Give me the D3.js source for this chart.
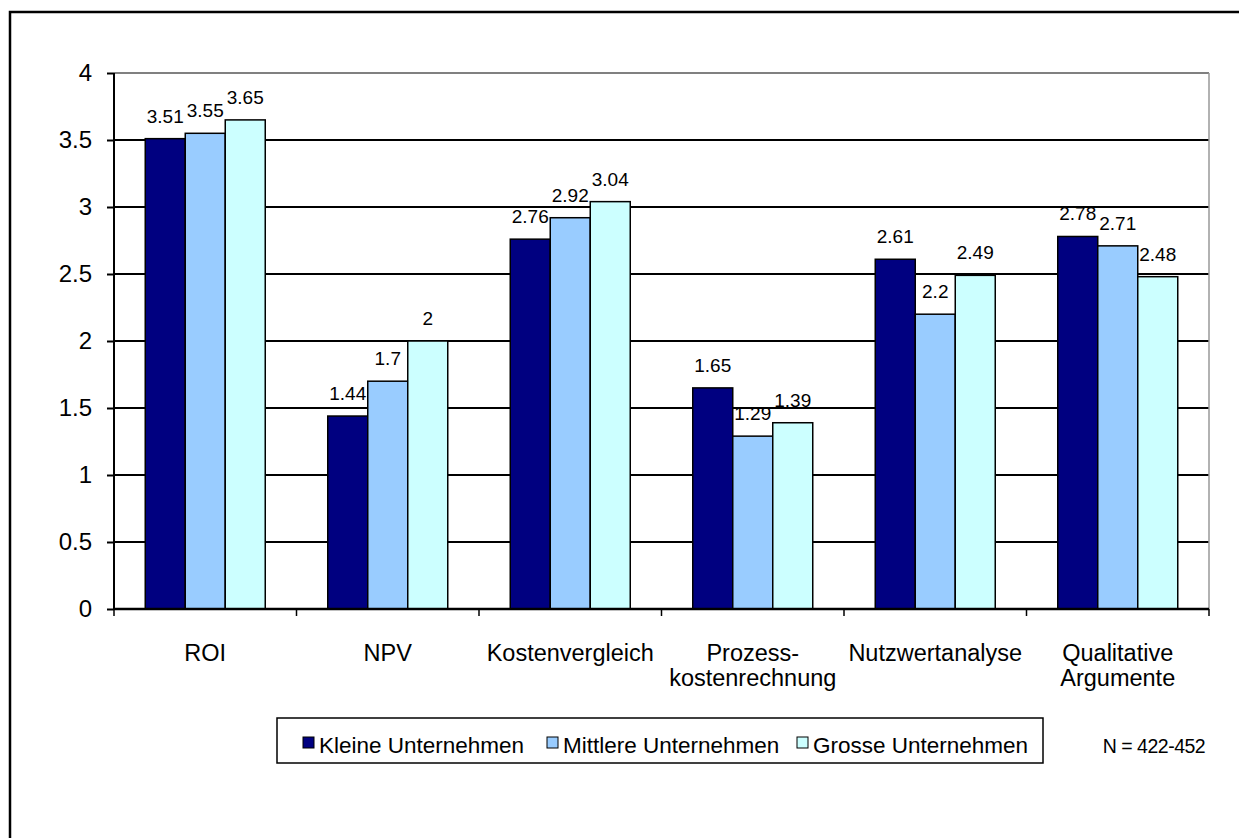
<!DOCTYPE html>
<html>
<head>
<meta charset="utf-8">
<script src="https://cdn.jsdelivr.net/npm/d3@7"></script>
<style>
  html, body { margin: 0; padding: 0; background: #fff; }
  svg { display: block; font-family: "Liberation Sans", Arial, sans-serif; }
</style>
</head>
<body>
<svg id="chart" width="1239" height="838"></svg>
<script>
// Methods and company-size groups
const categories = [["ROI"], ["NPV"], ["Kostenvergleich"], ["Prozess-", "kostenrechnung"], ["Nutzwertanalyse"], ["Qualitative", "Argumente"]];
const seriesNames = ["Kleine Unternehmen", "Mittlere Unternehmen", "Grosse Unternehmen"];
const kleine   = [3.51, 1.44, 2.76, 1.65, 2.61, 2.78];
const mittlere = [3.55, 1.7, 2.92, 1.29, 2.2, 2.71];
const grosse   = [3.65, 2, 3.04, 1.39, 2.49, 2.48];
const yTicks = [0, 0.5, 1, 1.5, 2, 2.5, 3, 3.5, 4];
const colors = ["#000080", "#99CCFF", "#CCFFFF"];
const note = "N = 422-452";

const series = [kleine, mittlere, grosse];
const svg = d3.select("#chart");

// outer frame
svg.append("path")
  .attr("d", "M10,840 L10,12 L1242,12")
  .attr("fill", "none").attr("stroke", "#000").attr("stroke-width", 2.5);

const plot = { left: 114, right: 1209, top: 73, bottom: 609 };

const x0 = d3.scaleBand()
  .domain(d3.range(categories.length))
  .range([plot.left, plot.right])
  .paddingInner(0).paddingOuter(0);

const groupW = 120;
const x1 = d3.scaleBand().domain(d3.range(series.length)).range([0, groupW]);

const y = d3.scaleLinear().domain([0, 4]).range([plot.bottom, plot.top]);

// gridlines
svg.append("g").selectAll("line")
  .data(yTicks.filter(t => t > 0))
  .join("line")
  .attr("x1", plot.left).attr("x2", plot.right)
  .attr("y1", d => y(d)).attr("y2", d => y(d))
  .attr("stroke", d => d === 4 ? "#808080" : "#000")
  .attr("stroke-width", 2);

// right edge of plot area
svg.append("line")
  .attr("x1", plot.right).attr("x2", plot.right)
  .attr("y1", plot.top).attr("y2", plot.bottom)
  .attr("stroke", "#999").attr("stroke-width", 1.5);

// bars
const groups = svg.append("g").selectAll("g")
  .data(categories.map((c, i) => i))
  .join("g")
  .attr("transform", i => `translate(${x0(i) + (x0.bandwidth() - groupW) / 2},0)`);

groups.selectAll("rect")
  .data(i => series.map((s, k) => ({ k, v: s[i] })))
  .join("rect")
  .attr("x", d => x1(d.k))
  .attr("width", x1.bandwidth())
  .attr("y", d => y(d.v))
  .attr("height", d => y(0) - y(d.v))
  .attr("fill", d => colors[d.k])
  .attr("stroke", "#000").attr("stroke-width", 1.5);

groups.selectAll("text")
  .data(i => series.map((s, k) => ({ k, v: s[i] })))
  .join("text")
  .attr("x", d => x1(d.k) + x1.bandwidth() / 2)
  .attr("y", d => y(d.v) - 16)
  .attr("text-anchor", "middle")
  .attr("font-size", 19)
  .attr("fill", "#000")
  .text(d => String(d.v));

// y axis
const yAxis = d3.axisLeft(y).tickValues(yTicks).tickSize(7).tickPadding(15)
  .tickFormat(d => String(d));
const ya = svg.append("g").attr("transform", `translate(${plot.left},0)`).call(yAxis);
ya.attr("font-family", null).attr("font-size", null);
ya.select(".domain").attr("stroke", "#000").attr("stroke-width", 2).attr("d", `M-0,${plot.top}V${plot.bottom}`);
ya.selectAll(".tick line").attr("stroke", "#000").attr("stroke-width", 2);
ya.selectAll(".tick text").attr("font-size", 24).attr("fill", "#000");

// x axis
const xAxis = d3.axisBottom(x0).tickSize(0).tickFormat("");
const xa = svg.append("g").attr("transform", `translate(0,${plot.bottom})`).call(xAxis);
xa.select(".domain").attr("stroke", "#000").attr("stroke-width", 2.5).attr("d", `M${plot.left},0H${plot.right}`);
xa.selectAll(".tick").remove();
svg.append("g").selectAll("line")
  .data(d3.range(categories.length + 1))
  .join("line")
  .attr("x1", i => plot.left + i * x0.bandwidth())
  .attr("x2", i => plot.left + i * x0.bandwidth())
  .attr("y1", plot.bottom).attr("y2", plot.bottom + 7)
  .attr("stroke", "#000").attr("stroke-width", 1.5);

// category labels
const cl = svg.append("g").selectAll("text")
  .data(categories.map((c, i) => ({ c, i })))
  .join("text")
  .attr("x", d => x0(d.i) + x0.bandwidth() / 2)
  .attr("y", 661)
  .attr("text-anchor", "middle")
  .attr("font-size", 23.5)
  .attr("fill", "#000");
cl.selectAll("tspan")
  .data(d => d.c.map(line => ({ line, x: x0(d.i) + x0.bandwidth() / 2 })))
  .join("tspan")
  .attr("x", d => d.x)
  .attr("dy", (d, j) => j === 0 ? 0 : 25)
  .text(d => d.line);

// legend
const lg = svg.append("g");
lg.append("rect")
  .attr("x", 277).attr("y", 718).attr("width", 766).attr("height", 45)
  .attr("fill", "#fff").attr("stroke", "#000").attr("stroke-width", 1.5);
const legendX = [303, 547, 797];
const items = lg.selectAll("g.item")
  .data(seriesNames.map((n, k) => ({ n, k })))
  .join("g").attr("class", "item")
  .attr("transform", d => `translate(${legendX[d.k]},737)`);
items.append("rect")
  .attr("width", 11).attr("height", 11)
  .attr("fill", d => colors[d.k]).attr("stroke", "#000").attr("stroke-width", 1);
items.append("text")
  .attr("x", 16).attr("y", 16)
  .attr("font-size", 22.5).attr("fill", "#000")
  .text(d => d.n);

svg.append("text")
  .attr("x", 1154).attr("y", 753)
  .attr("text-anchor", "middle")
  .attr("font-size", 19.5).attr("fill", "#000")
  .attr("letter-spacing", "-0.5")
  .text(note);
</script>
</body>
</html>
